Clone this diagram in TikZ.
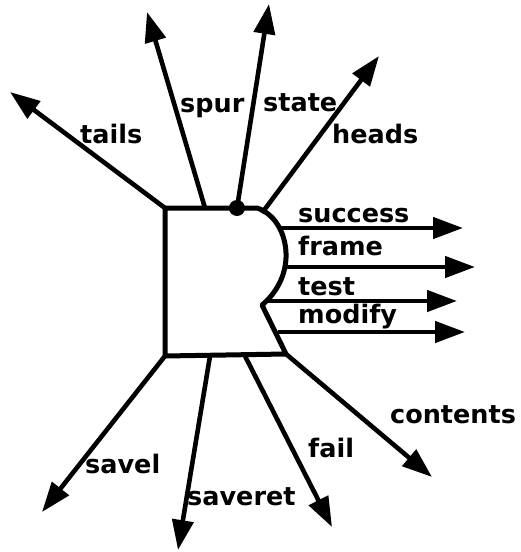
\documentclass[tikz,border=0pt]{standalone}
\usepackage{fontspec}
\setmainfont{DejaVu Sans}
\usetikzlibrary{arrows.meta}

\tikzset{
  flow/.style={line width=4.6pt,-{Triangle[length=30pt,width=21pt]}},
  lbl/.style={font=\fontsize{25.5}{28}\selectfont\bfseries,inner sep=0pt,anchor=base west},
  outline/.style={line width=5pt,line join=round},
}

\begin{document}
\begin{tikzpicture}[x=1pt,y=-1pt]
  \useasboundingbox (0,0) rectangle (520,552);
  % the box with its rounded right side
  \coordinate (tl) at (165,208);
  \coordinate (bl) at (165,356);
  \coordinate (br) at (286,354);
  \coordinate (notch) at (262,305);
  \coordinate (bulge) at (257,208);
  \draw[outline] (tl) -- (bulge)
    .. controls (276,214) and (287,236) .. (286,258)
    .. controls (285,280) and (273,296) .. (notch)
    -- (br) -- (bl) -- cycle;
  \fill (237,208) circle (8pt) coordinate (dot);
  % start points on the box
  \foreach \n/\x/\y in {sp/205/208, hd/262/213, su/279/228, fr/285/267,
      te/266/301, mo/278/332, sr/210/356, fa/245/356} {
    \coordinate (\n) at (\x,\y);
  }
  % tips
  \foreach \n/\x/\y in {tailsT/10/92, spurT/147/12, stateT/269/4, headsT/379/56,
      successT/463/228, frameT/475/267, testT/457/301, modifyT/465/332,
      savelT/42/512, saveretT/178/550, failT/332/527, contentsT/432/477} {
    \coordinate (\n) at (\x,\y);
  }
  \foreach \a/\b in {tl/tailsT, sp/spurT, dot/stateT, hd/headsT,
      su/successT, fr/frameT, te/testT, mo/modifyT,
      bl/savelT, sr/saveretT, fa/failT, br/contentsT} {
    \draw[flow] (\a) -- (\b);
  }
  % labels
  \node[lbl] (tails) at (80,143) {tails};
  \node[lbl] (spur) at (180,112) {spur};
  \node[lbl] (state) at (263,111) {state};
  \node[lbl] (heads) at (332,143) {heads};
  \node[lbl] (success) at (298,222) {success};
  \node[lbl] (frame) at (298,255) {frame};
  \node[lbl] (test) at (298,295) {test};
  \node[lbl] (modify) at (298,323) {modify};
  \node[lbl] (savel) at (85,473) {savel};
  \node[lbl] (saveret) at (187,505) {saveret};
  \node[lbl] (fail) at (308,457) {fail};
  \node[lbl] (contents) at (390,423) {contents};
\end{tikzpicture}
\end{document}
